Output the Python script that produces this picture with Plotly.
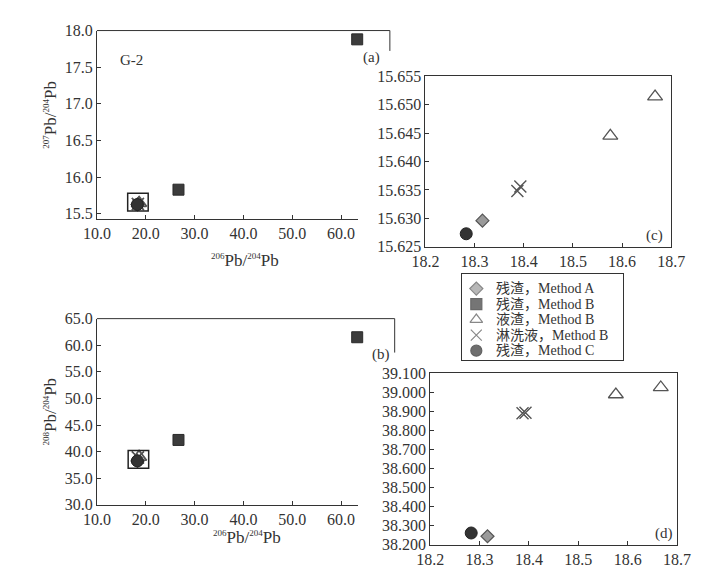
import plotly.graph_objects as go

# ---------------- data ----------------
# Series: x = 206Pb/204Pb, y1 = 207Pb/204Pb, y2 = 208Pb/204Pb
resA_x = [18.316]
resA_207 = [15.6296]
resA_208 = [38.244]

resB_x = [26.7, 63.3]
resB_207 = [15.83, 17.88]
resB_208 = [42.2, 61.5]

liq_x = [18.576, 18.667]
liq_207 = [15.6445, 15.6514]
liq_208 = [38.987, 39.024]

leach_x = [18.387, 18.393]
leach_207 = [15.6348, 15.6356]
leach_208 = [38.889, 38.891]

resC_x = [18.283]
resC_207 = [15.6273]
resC_208 = [38.261]

names = ["残渣，Method A", "残渣，Method B", "液渣，Method B", "淋洗液，Method B", "残渣，Method C"]

ticks_ab_x = [10, 20, 30, 40, 50, 60]
ticks_a_y = [15.5, 16.0, 16.5, 17.0, 17.5, 18.0]
ticks_b_y = [30, 35, 40, 45, 50, 55, 60, 65]
ticks_cd_x = [18.2, 18.3, 18.4, 18.5, 18.6, 18.7]
ticks_c_y = [15.625, 15.630, 15.635, 15.640, 15.645, 15.650, 15.655]
ticks_d_y = [38.2, 38.3, 38.4, 38.5, 38.6, 38.7, 38.8, 38.9, 39.0, 39.1]


def iso(mass_a, mass_b):
    sup = '<sup><span style="font-size:9px">{}</span></sup>'
    return f"{sup.format(mass_a)}Pb/{sup.format(mass_b)}Pb"


title_x = iso(206, 204)
title_ya = iso(207, 204)
title_yb = iso(208, 204)

# zoom-box bounds (data units) drawn in (a) and (b)
BOX_A = (16.3, 20.5, 15.54, 15.78)
BOX_B = (16.4, 20.6, 36.9, 40.2)

# ---------------- style ----------------
# The page body keeps its default 8px margin, so the figure is 16px smaller
# than the window and all layout positions below are given in window pixels.
WIN_W, WIN_H, OFF = 725, 582, 8
W, H = WIN_W - 2 * OFF, WIN_H - 2 * OFF
SERIF = "Liberation Serif, Times New Roman, Noto Sans CJK SC, serif"
INK = "#333333"

styles = [
    dict(symbol="diamond", size=10, color="#9a9a9a", line=dict(color="#555555", width=1.2)),
    dict(symbol="square", size=11, color="#3c3c3c", line=dict(color="#2a2a2a", width=1)),
    dict(symbol="triangle-up-open", size=13, color="#555555", line=dict(color="#555555", width=1.3)),
    dict(symbol="x-thin-open", size=12, color="#555555", line=dict(color="#555555", width=1.4)),
    dict(symbol="circle", size=12, color="#333333", line=dict(color="#222222", width=1)),
]
legend_styles = [dict(s, size=min(s["size"], 11)) for s in styles]


def px(x):
    return (x - OFF) / W


def py(y):
    return 1 - (y - OFF) / H


fig = go.Figure()

series = [
    (resA_x, resA_207, resA_208),
    (resB_x, resB_207, resB_208),
    (liq_x, liq_207, liq_208),
    (leach_x, leach_207, leach_208),
    (resC_x, resC_207, resC_208),
]

panels = [("x", "y", 1), ("x2", "y2", 2), ("x3", "y3", 1), ("x4", "y4", 2)]
for pi, (xa, ya, which) in enumerate(panels):
    for si, (xs, y7, y8) in enumerate(series):
        if pi >= 2 and si == 1:
            continue  # Method B residues are outside the zoomed ranges
        ys = y7 if which == 1 else y8
        fig.add_trace(go.Scatter(
            x=xs, y=ys, mode="markers", xaxis=xa, yaxis=ya,
            marker=styles[si], name=names[si], showlegend=False,
            cliponaxis=(pi >= 2), hoverinfo="x+y",
        ))

# ---- hand-built legend box (axis pair x5/y5, pixel-like units) ----
LEG_L, LEG_R, LEG_T, LEG_B = 466, 634, 274, 363
LEG_ROW0, LEG_STEP, LEG_SYM_X, LEG_TXT_X = 289, 16, 15, 33
rows = list(range(len(names)))
fig.add_trace(go.Scatter(
    x=[LEG_SYM_X] * len(names), y=rows, mode="markers", xaxis="x5", yaxis="y5",
    marker=dict(symbol=[s["symbol"] for s in legend_styles],
                size=[s["size"] for s in legend_styles],
                color=[s["color"] for s in legend_styles],
                line=dict(color=[s["line"]["color"] for s in legend_styles], width=1.2)),
    showlegend=False, hoverinfo="skip",
))

axis_common = dict(showline=True, linecolor=INK, linewidth=1, ticks="inside",
                   ticklen=4, tickcolor=INK, showgrid=False, zeroline=False,
                   tickfont=dict(family=SERIF, size=16, color=INK))

fig.update_layout(
    width=W, height=H, margin=dict(l=0, r=0, t=0, b=0, pad=0),
    paper_bgcolor="white", plot_bgcolor="white", showlegend=False,
    xaxis=dict(domain=[px(86), px(358)], range=[10, 63.5], tickvals=ticks_ab_x,
               ticktext=[f"{v:.1f}" for v in ticks_ab_x], anchor="y", **axis_common),
    yaxis=dict(domain=[py(217), py(23)], range=[15.434, 18.0], tickvals=ticks_a_y,
               ticktext=[f"{v:.1f}" for v in ticks_a_y], anchor="x", **axis_common),
    xaxis2=dict(domain=[px(86), px(358)], range=[10, 63.5], tickvals=ticks_ab_x,
                ticktext=[f"{v:.1f}" for v in ticks_ab_x], anchor="y2", **axis_common),
    yaxis2=dict(domain=[py(512), py(320)], range=[30, 65], tickvals=ticks_b_y,
                ticktext=[f"{v:.1f}" for v in ticks_b_y], anchor="x2", **axis_common),
    xaxis3=dict(domain=[px(428), px(684)], range=[18.2, 18.7], tickvals=ticks_cd_x,
                ticktext=[f"{v:.1f}" for v in ticks_cd_x], anchor="y3", mirror=True, **axis_common),
    yaxis3=dict(domain=[py(246), py(70)], range=[15.625, 15.655], tickvals=ticks_c_y,
                ticktext=[f"{v:.3f}" for v in ticks_c_y], anchor="x3", mirror=True, **axis_common),
    xaxis4=dict(domain=[px(433), px(690)], range=[18.2, 18.7], tickvals=ticks_cd_x,
                ticktext=[f"{v:.1f}" for v in ticks_cd_x], anchor="y4", mirror=True, **axis_common),
    yaxis4=dict(domain=[py(553), py(376)], range=[38.2, 39.1], tickvals=ticks_d_y,
                ticktext=[f"{v:.3f}" for v in ticks_d_y], anchor="x4", mirror=True, **axis_common),
    xaxis5=dict(domain=[px(LEG_L), px(LEG_R)], range=[0, LEG_R - LEG_L], anchor="y5",
                showline=True, mirror=True, linecolor=INK, linewidth=1, showticklabels=False,
                ticks="", showgrid=False, zeroline=False, fixedrange=True),
    yaxis5=dict(domain=[py(LEG_B), py(LEG_T)],
                range=[(LEG_B - LEG_ROW0) / LEG_STEP, (LEG_T - LEG_ROW0) / LEG_STEP],
                anchor="x5", showline=True, mirror=True, linecolor=INK, linewidth=1,
                showticklabels=False, ticks="", showgrid=False, zeroline=False, fixedrange=True),
)

shapes = [
    # partial frame of (a)
    dict(type="line", xref="paper", yref="paper", x0=px(86), x1=px(391), y0=py(23), y1=py(23),
         line=dict(color=INK, width=1)),
    dict(type="line", xref="paper", yref="paper", x0=px(391), x1=px(391), y0=py(23), y1=py(44),
         line=dict(color=INK, width=1)),
    # partial frame of (b)
    dict(type="line", xref="paper", yref="paper", x0=px(86), x1=px(396), y0=py(320), y1=py(320),
         line=dict(color=INK, width=1)),
    dict(type="line", xref="paper", yref="paper", x0=px(396), x1=px(396), y0=py(320), y1=py(355),
         line=dict(color=INK, width=1)),
    # zoom boxes
    dict(type="rect", xref="x", yref="y", x0=BOX_A[0], x1=BOX_A[1], y0=BOX_A[2], y1=BOX_A[3],
         line=dict(color="#222222", width=1.5)),
    dict(type="rect", xref="x2", yref="y2", x0=BOX_B[0], x1=BOX_B[1], y0=BOX_B[2], y1=BOX_B[3],
         line=dict(color="#222222", width=1.5)),
]
fig.update_layout(shapes=shapes)


def note(text, x, y, size=15, angle=0):
    return dict(text=text, xref="paper", yref="paper", x=px(x), y=py(y),
                xanchor="center", yanchor="middle", showarrow=False, textangle=angle,
                font=dict(family=SERIF, size=size, color=INK))


ann = [
    note("G-2", 122, 53),
    note("(a)", 372, 51),
    note("(b)", 382, 357),
    note("(c)", 667, 234),
    note("(d)", 676, 542),
    note(title_x, 240, 260, 17),
    note(title_x, 242, 546, 17),
    note(title_ya, 38, 110, 17, -90),
    note(title_yb, 38, 416, 17, -90),
]
for i, nm in enumerate(names):
    ann.append(dict(text=nm, xref="x5", yref="y5", x=LEG_TXT_X, y=i, xanchor="left",
                    yanchor="middle", showarrow=False,
                    font=dict(family=SERIF, size=14, color=INK)))
fig.update_layout(annotations=ann)

fig.write_html("out.html", config={"displayModeBar": False})
